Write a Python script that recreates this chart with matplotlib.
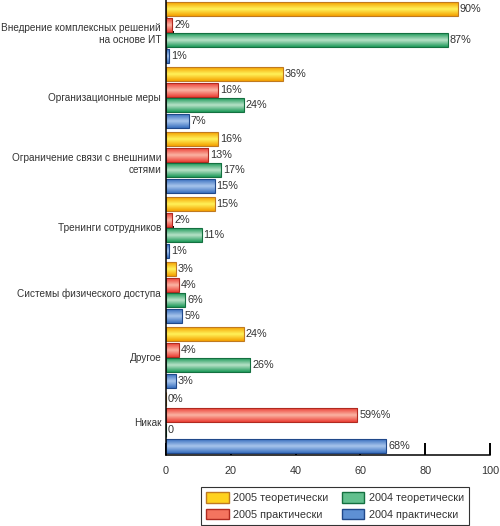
import numpy as np
import matplotlib
matplotlib.use('Agg')
import matplotlib.pyplot as plt
from matplotlib.colors import LinearSegmentedColormap

plt.rcParams['font.family'] = ['Liberation Sans', 'DejaVu Sans']

# Data
categories = ['Внедрение комплексных решений\nна основе ИТ', 'Организационные меры',
              'Ограничение связи с внешними\nсетями', 'Тренинги сотрудников',
              'Системы физического доступа', 'Другое', 'Никак']
series_names = ['2005 теоретически', '2005 практически', '2004 теоретически', '2004 практически']
t2005 = [90, 36, 16, 15, 3, 24, 0]
p2005 = [2, 16, 13, 2, 4, 4, 59]
t2004 = [87, 24, 17, 11, 6, 26, 0]
p2004 = [1, 7, 15, 1, 5, 3, 68]
lab_t2005 = ['90%', '36%', '16%', '15%', '3%', '24%', '0%']
lab_p2005 = ['2%', '16%', '13%', '2%', '4%', '4%', '59%%']
lab_t2004 = ['87%', '24%', '17%', '11%', '6%', '26%', '0']
lab_p2004 = ['1%', '7%', '15%', '1%', '5%', '3%', '68%']

values = [t2005, p2005, t2004, p2004]
labels = [lab_t2005, lab_p2005, lab_t2004, lab_p2004]

# gradient colours: edge, middle, border
styles = [
    ('#f5a000', '#fff25a', '#c07a20'),
    ('#ec3f35', '#fbb4a4', '#b02a20'),
    ('#1e9a5a', '#b8e2c8', '#147040'),
    ('#3a70c0', '#a8c6ec', '#20488a'),
]
legend_colors = ['#ffd21e', '#f4745f', '#62c08e', '#5e90d4']

fig = plt.figure(figsize=(5, 5.26), dpi=100)
ax = fig.add_axes([0.332, 0.135, 0.648, 0.865])

y = np.arange(len(categories))
offsets = [-0.36, -0.12, 0.12, 0.36]
h = 0.215
fs = 7.8

for vals, labs, off, (c_edge, c_mid, c_line), name, lc in zip(values, labels, offsets, styles,
                                                            series_names, legend_colors):
    cmap = LinearSegmentedColormap.from_list('g', [c_edge, c_mid, c_edge])
    bars = ax.barh(y + off, vals, height=h, color='none', edgecolor=c_line, linewidth=0.8,
                   zorder=3)
    for b, v in zip(bars, vals):
        if v <= 0:
            continue
        grad = np.linspace(0, 1, 64).reshape(-1, 1)
        im = ax.imshow(grad, extent=[0, v, b.get_y() + b.get_height(), b.get_y()],
                       aspect='auto', cmap=cmap, zorder=2, interpolation='bilinear')
        im.set_clip_path(b)
    for yy, v, t in zip(y + off, vals, labs):
        ax.text(v + 0.6, yy, t, va='center', ha='left', fontsize=fs, color='#333333')
    ax.barh([0], [0], color=lc, edgecolor=c_line, label=name)

ax.set_xlim(0, 100)
ax.set_ylim(len(categories) - 0.5, -0.5)
ax.set_yticks(y)
ax.set_yticklabels(categories, fontsize=7.2, color='#333333', ha='right')
ax.set_xticks([0, 20, 40, 60, 80, 100])
ax.tick_params(axis='x', direction='in', length=8.6, width=1.4, labelsize=fs,
               labelcolor='#333333', pad=8)
ax.tick_params(axis='y', direction='in', length=5.8, width=1.4, pad=3.5)
ax.set_axisbelow(True)
for s in ['top', 'right']:
    ax.spines[s].set_visible(False)
for s in ['left', 'bottom']:
    ax.spines[s].set_linewidth(1.1)
    ax.spines[s].set_zorder(4)

leg = fig.legend(loc='center', bbox_to_anchor=(0.67, 0.038), ncol=2, fontsize=fs,
                 frameon=True, fancybox=False, edgecolor='black', handlelength=2.1,
                 handleheight=1.1, columnspacing=1.2, borderpad=0.5, labelspacing=0.5,
                 handletextpad=0.4)
leg.get_frame().set_linewidth(0.8)
for t in leg.get_texts():
    t.set_color('#333333')

fig.savefig('out.png', dpi=100)
